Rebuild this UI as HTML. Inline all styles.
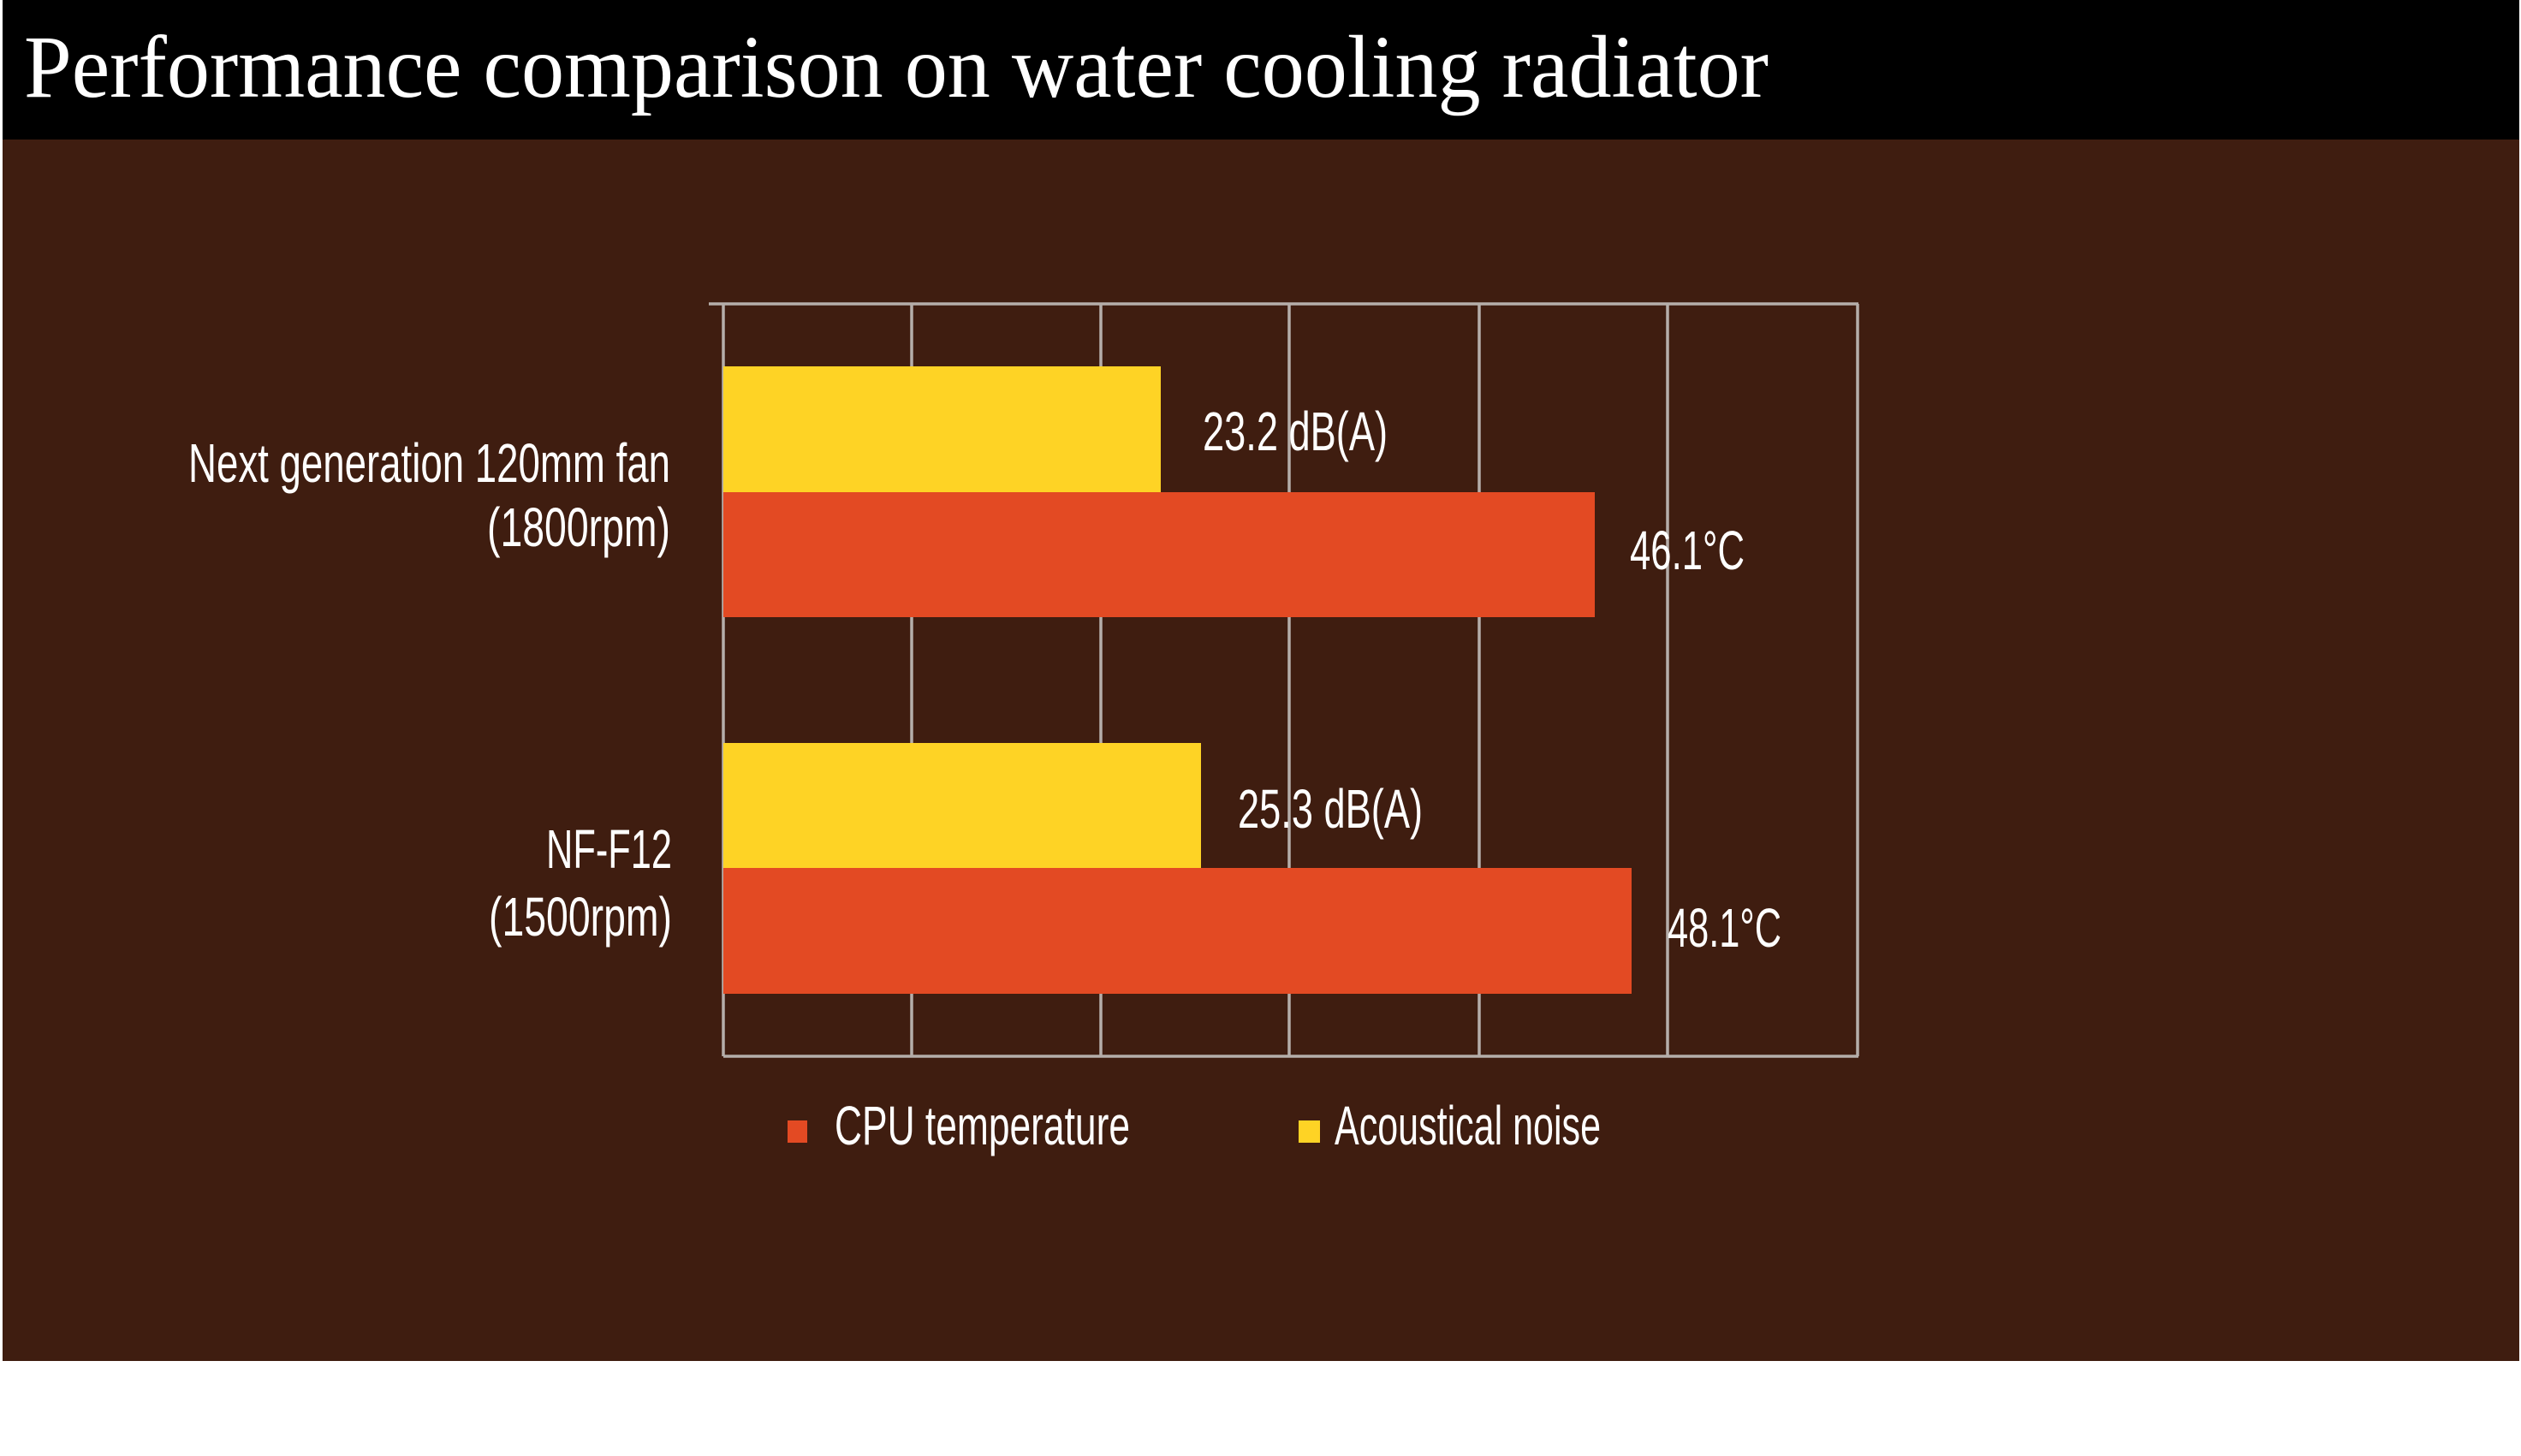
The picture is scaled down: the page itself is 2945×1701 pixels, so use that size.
<!DOCTYPE html>
<html><head><meta charset="utf-8"><style>
html,body{margin:0;padding:0;background:#fff;}
svg{display:block;}
text{font-family:"Liberation Sans",sans-serif;fill:#fff;}
</style></head><body>
<svg width="2945" height="1701" viewBox="0 0 2945 1701" xmlns="http://www.w3.org/2000/svg">
<rect x="0" y="0" width="2945" height="1701" fill="#fff"/>
<rect x="3" y="0" width="2940" height="163" fill="#000"/>
<rect x="3" y="163" width="2940" height="1427" fill="#3f1d10"/>
<text x="28" y="113" font-size="104" textLength="2038" lengthAdjust="spacingAndGlyphs" style="font-family:'Liberation Serif',serif">Performance comparison on water cooling radiator</text>
<g stroke="#b5aeaa" stroke-width="3.5" fill="none">
<line x1="828" y1="355" x2="2171" y2="355"/>
<line x1="845" y1="1234" x2="2171" y2="1234"/>
<line x1="845" y1="355" x2="845" y2="1234"/>
<line x1="1065" y1="355" x2="1065" y2="1234"/>
<line x1="1286" y1="355" x2="1286" y2="1234"/>
<line x1="1506" y1="355" x2="1506" y2="1234"/>
<line x1="1728" y1="355" x2="1728" y2="1234"/>
<line x1="1948" y1="355" x2="1948" y2="1234"/>
<line x1="2170" y1="355" x2="2170" y2="1234"/>
</g>
<rect x="845" y="428" width="511" height="147" fill="#fed325"/>
<rect x="845" y="575" width="1018" height="146" fill="#e34a23"/>
<rect x="845" y="868" width="558" height="146" fill="#fed325"/>
<rect x="845" y="1014" width="1061" height="147" fill="#e34a23"/>
<g font-size="64">
<text x="220" y="563" textLength="563" lengthAdjust="spacingAndGlyphs">Next generation 120mm fan</text>
<text x="569" y="638" textLength="214" lengthAdjust="spacingAndGlyphs">(1800rpm)</text>
<text x="638" y="1014" textLength="147" lengthAdjust="spacingAndGlyphs">NF-F12</text>
<text x="571" y="1093" textLength="214" lengthAdjust="spacingAndGlyphs">(1500rpm)</text>
<text x="1405" y="526" textLength="216" lengthAdjust="spacingAndGlyphs">23.2 dB(A)</text>
<text x="1904" y="665" textLength="134" lengthAdjust="spacingAndGlyphs">46.1°C</text>
<text x="1446" y="967" textLength="216" lengthAdjust="spacingAndGlyphs">25.3 dB(A)</text>
<text x="1948" y="1106" textLength="133" lengthAdjust="spacingAndGlyphs">48.1°C</text>
<text x="975" y="1337" textLength="345" lengthAdjust="spacingAndGlyphs">CPU temperature</text>
<text x="1559" y="1337" textLength="311" lengthAdjust="spacingAndGlyphs">Acoustical noise</text>
</g>
<rect x="920" y="1309" width="23" height="26" fill="#e34a23"/>
<rect x="1517" y="1309" width="25" height="26" fill="#fed325"/>
</svg>
</body></html>
